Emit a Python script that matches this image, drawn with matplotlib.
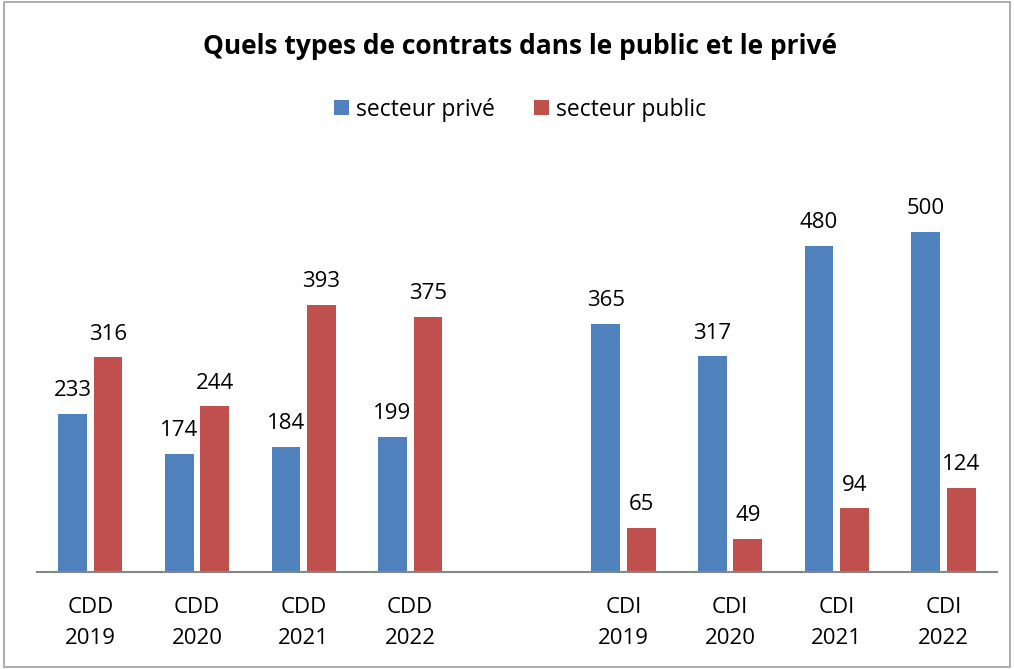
import numpy as np
import matplotlib
matplotlib.use('agg')
import matplotlib.pyplot as plt
from matplotlib.patches import Rectangle

categories = ["CDD\n2019", "CDD\n2020", "CDD\n2021", "CDD\n2022", "",
              "CDI\n2019", "CDI\n2020", "CDI\n2021", "CDI\n2022"]
prive = [233, 174, 184, 199, None, 365, 317, 480, 500]
public = [316, 244, 393, 375, None, 65, 49, 94, 124]

plt.rcParams['font.family'] = ['Open Sans', 'DejaVu Sans']

fig = plt.figure(figsize=(10.14, 6.69), dpi=100)
fig.patches.append(Rectangle((0.004, 0.003), 0.992, 0.994, transform=fig.transFigure,
                             fill=False, edgecolor='#a0a0a0', linewidth=1.2))
ax = fig.add_axes([0.0365, 0.145, 0.9465, 0.61])

x = np.arange(len(categories))
w = 0.27
off = 0.166
idx = [i for i, v in enumerate(prive) if v is not None]
pv = [prive[i] for i in idx]
pu = [public[i] for i in idx]
xi = x[idx]

b1 = ax.bar(xi - off, pv, w, color='#4f81bd', label='secteur privé')
b2 = ax.bar(xi + off, pu, w, color='#c0504d', label='secteur public')
for bars in (b1, b2):
    ax.bar_label(bars, padding=9, fontsize=16)

ax.set_xlim(-0.5, 8.5)
ax.set_ylim(0, 600)
ax.set_xticks(x)
ax.set_xticklabels(categories, fontsize=16, linespacing=1.6)
ax.tick_params(axis='x', length=0, pad=18)
ax.set_yticks([])
for s in ['top', 'right', 'left']:
    ax.spines[s].set_visible(False)
ax.spines['bottom'].set_color('#868686')
ax.spines['bottom'].set_linewidth(1.5)

fig.text(0.513, 0.93, "Quels types de contrats dans le public et le privé",
         ha='center', va='center', fontsize=19, fontweight='bold')
fig.legend(handles=[b1, b2], loc='center', bbox_to_anchor=(0.513, 0.836), ncol=2,
           frameon=False, fontsize=16.5, handlelength=0.65, handleheight=0.65,
           handletextpad=0.3, columnspacing=1.7)

fig.savefig('out.png', dpi=100)
